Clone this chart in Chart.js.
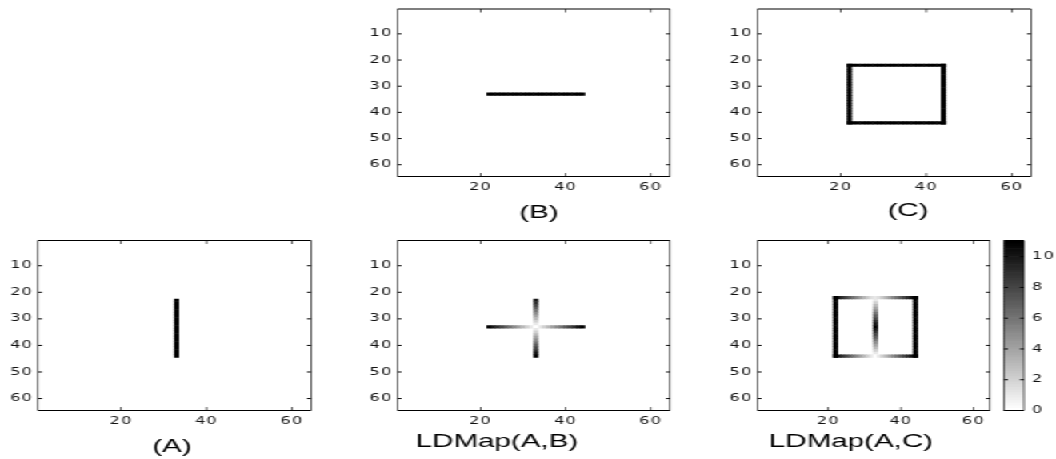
<!DOCTYPE html>
<html>
<head>
<meta charset="utf-8">
<script src="https://cdn.jsdelivr.net/npm/chart.js@4/dist/chart.umd.min.js"></script>
<style>
  html, body { margin: 0; padding: 0; background: #fff; overflow: hidden; }
  /* the figure is drawn narrow and stretched sideways, like the reference */
  #fig { position: absolute; left: 0; top: 0; width: 660px; height: 459px;
         transform: scaleX(1.6); transform-origin: 0 0; }
  #fig canvas { position: absolute; left: 0; top: 0; }
</style>
</head>
<body>
<div id="fig"></div>
<script>
// ---- data ----
const xTicks = [20, 40, 60];
const yTicks = [10, 20, 30, 40, 50, 60];
const cbarTicks = [0, 2, 4, 6, 8, 10];
const cbarMax = 11.05;

// pixel runs [col0, row0, col1, row1] of the binary images (value 1 = black)
const shapeA = [[33, 23, 33, 44]];
const shapeB = [[22, 33, 44, 33]];
const shapeC = [[22, 22, 44, 22], [22, 44, 44, 44], [22, 22, 22, 44], [44, 22, 44, 44]];

// LDMap values read along each run
const ldAB_onB = [11, 10, 9, 8, 7, 6, 5, 4, 3, 2, 1, 0, 1, 2, 3, 4, 5, 6, 7, 8, 9, 10, 11];
const ldAB_onA = [10, 9, 8, 7, 6, 5, 4, 3, 2, 1, 0, 1, 2, 3, 4, 5, 6, 7, 8, 9, 10, 11];
const ldAC_onA = [1, 2, 3, 4, 5, 6, 7, 8, 9, 10, 11, 10, 9, 8, 7, 6, 5, 4, 3, 2, 1, 0];
const ldAC_top = [11.05, 10.05, 9.06, 8.06, 7.07, 6.08, 5.1, 4.12, 3.16, 2.24, 1.41, 1,
                  1.41, 2.24, 3.16, 4.12, 5.1, 6.08, 7.07, 8.06, 9.06, 10.05, 11.05];
const ldAC_bottom = [11, 10, 9, 8, 7, 6, 5, 4, 3, 2, 1, 0, 1, 2, 3, 4, 5, 6, 7, 8, 9, 10, 11];
const ldAC_side = [11.05, 11, 11, 11, 11, 11, 11, 11, 11, 11, 11, 11,
                   11, 11, 11, 11, 11, 11, 11, 11, 11, 11, 11];

// ---- helpers ----
function runPixels(run) {
    const [c0, r0, c1, r1] = run;
    const n = Math.max(Math.abs(c1 - c0), Math.abs(r1 - r0));
    const out = [];
    for (let i = 0; i <= n; i++) {
        out.push([c0 + Math.sign(c1 - c0) * i, r0 + Math.sign(r1 - r0) * i]);
    }
    return out;
}

function cells(runs, values) {
    return runs.flatMap((run, i) =>
        runPixels(run).map((p, j) => ({ x: p[0], y: p[1], v: values ? values[i][j] : 1 })));
}

// 1-gray colormap: 0 = white, max = black
function grey(v, max) {
    const g = Math.round(255 * (1 - Math.min(Math.max(v / max, 0), 1)));
    return `rgb(${g},${g},${g})`;
}

const SX = 1.6, W = 660, H = 459, YW = 22, XH = 24;
const FONT = "'Liberation Sans', Arial, Helvetica, sans-serif";
const TICK_FONT = "'DejaVu Sans', 'Liberation Sans', sans-serif";
const fig = document.getElementById('fig');

// box around the axes with little ticks pointing inwards
const framePlugin = {
    id: 'frame',
    beforeDraw(chart) { chart.ctx.letterSpacing = '0.8px'; },
    afterDatasetsDraw(chart) {
        const { ctx, chartArea: a, scales } = chart;
        const vw = 1 / SX;
        ctx.save();
        ctx.fillStyle = '#000';
        ctx.fillRect(a.left, a.top - 0.5, a.right - a.left, 1);
        ctx.fillRect(a.left, a.bottom - 0.5, a.right - a.left, 1);
        ctx.fillRect(a.left - vw / 2, a.top, vw, a.bottom - a.top);
        ctx.fillRect(a.right - vw / 2, a.top, vw, a.bottom - a.top);
        if (scales.x.options.display) {
            scales.x.ticks.forEach(t => {
                const px = scales.x.getPixelForValue(t.value);
                ctx.fillRect(px - vw / 2, a.bottom - 3.5, vw, 3.5);
                ctx.fillRect(px - vw / 2, a.top, vw, 3.5);
            });
        }
        scales.y.ticks.forEach(t => {
            const py = scales.y.getPixelForValue(t.value);
            ctx.fillRect(a.left, py - 0.5, 2.5, 1);
            ctx.fillRect(a.right - 2.5, py - 0.5, 2.5, 1);
        });
        ctx.restore();
    }
};

// x label under each image
const labelPlugin = {
    id: 'panelLabel',
    afterDraw(chart, args, opts) {
        if (!opts.text) return;
        const ctx = chart.ctx;
        ctx.save();
        ctx.letterSpacing = '0px';
        ctx.fillStyle = '#000';
        ctx.font = `${opts.size}px ${FONT}`;
        ctx.textAlign = 'center';
        ctx.textBaseline = 'middle';
        ctx.fillText(opts.text, opts.x / SX, opts.y);
        ctx.restore();
    }
};

// colorbar strip, 64 levels like a matlab colormap
const colorbarPlugin = {
    id: 'colorbar',
    beforeDatasetsDraw(chart) {
        const { ctx, chartArea: a, scales: { y } } = chart;
        const n = 64;
        ctx.save();
        for (let i = 0; i < n; i++) {
            const v0 = cbarMax * i / n, v1 = cbarMax * (i + 1) / n;
            const y0 = y.getPixelForValue(v0), y1 = y.getPixelForValue(v1);
            ctx.fillStyle = grey(cbarMax * i / (n - 1), cbarMax);
            ctx.fillRect(a.left, y1 - 0.3, a.right - a.left, y0 - y1 + 0.6);
        }
        ctx.restore();
    }
};

const tickFont = { family: TICK_FONT, size: 10 };
const noGrid = { display: false, drawTicks: false, tickLength: 0 };

function makePanel(p) {
    const cv = document.createElement('canvas');
    cv.width = W; cv.height = H;
    fig.appendChild(cv);
    const [l, t, r, b] = p.area;
    return new Chart(cv, {
        type: 'scatter',
        data: {
            datasets: [{
                data: p.cells,
                backgroundColor: c => grey(c.raw ? c.raw.v : 0, p.max)
            }]
        },
        options: {
            responsive: false,
            animation: false,
            events: [],
            layout: { padding: { left: l / SX - YW, right: W - r / SX, top: t, bottom: H - b - XH } },
            elements: { point: { pointStyle: 'rect', radius: 2.25, borderWidth: 0, hoverRadius: 2.25 } },
            plugins: {
                legend: { display: false },
                tooltip: { enabled: false },
                panelLabel: { text: p.label, x: p.labelAt[0], y: p.labelAt[1], size: 18.5 }
            },
            scales: {
                x: {
                    type: 'linear', min: 0.5, max: 64.5,
                    afterBuildTicks: s => { s.ticks = xTicks.map(v => ({ value: v })); },
                    afterFit: s => { s.height = XH; },
                    grid: noGrid, border: { display: false },
                    ticks: { color: '#111', font: tickFont, padding: 5, autoSkip: false, maxRotation: 0 }
                },
                y: {
                    type: 'linear', min: 0.5, max: 64.5, reverse: true,
                    afterBuildTicks: s => { s.ticks = yTicks.map(v => ({ value: v })); },
                    afterFit: s => { s.width = YW; },
                    grid: noGrid, border: { display: false },
                    ticks: { color: '#111', font: tickFont, padding: 3, autoSkip: false }
                }
            }
        },
        plugins: [framePlugin, labelPlugin]
    });
}

function makeColorbar(area) {
    const cv = document.createElement('canvas');
    cv.width = W; cv.height = H;
    fig.appendChild(cv);
    const [l, t, r, b] = area;
    return new Chart(cv, {
        type: 'scatter',
        data: { datasets: [{ data: [] }] },
        options: {
            responsive: false,
            animation: false,
            events: [],
            layout: { padding: { left: l / SX, right: W - r / SX - YW, top: t, bottom: H - b } },
            plugins: { legend: { display: false }, tooltip: { enabled: false } },
            scales: {
                x: { type: 'linear', min: 0, max: 1, display: false },
                y: {
                    type: 'linear', position: 'right', min: 0, max: cbarMax,
                    afterBuildTicks: s => { s.ticks = cbarTicks.map(v => ({ value: v })); },
                    afterFit: s => { s.width = YW; },
                    grid: noGrid, border: { display: false },
                    ticks: { color: '#111', font: tickFont, padding: 5, autoSkip: false }
                }
            }
        },
        plugins: [colorbarPlugin, framePlugin]
    });
}

// ---- panels (area = left, top, right, bottom in page pixels) ----
makePanel({ label: '(B)', area: [397.5, 6.5, 670, 176.5], labelAt: [539, 213],
            cells: cells(shapeB), max: 1 });
makePanel({ label: '(C)', area: [757.5, 6.5, 1031, 176.5], labelAt: [908, 211],
            cells: cells(shapeC), max: 1 });
makePanel({ label: '(A)', area: [38, 240.5, 311, 410.5], labelAt: [172, 447],
            cells: cells(shapeA), max: 1 });
makePanel({ label: 'LDMap(A,B)', area: [397.5, 240.5, 670, 410.5], labelAt: [497, 442],
            cells: cells([...shapeB, ...shapeA], [ldAB_onB, ldAB_onA]), max: 11 });
makePanel({ label: 'LDMap(A,C)', area: [757.5, 240.5, 990, 410.5], labelAt: [851, 442],
            cells: cells([...shapeA, ...shapeC], [ldAC_onA, ldAC_top, ldAC_bottom, ldAC_side, ldAC_side]),
            max: cbarMax });
makeColorbar([1004, 240.5, 1024, 410.5]);
</script>
</body>
</html>
